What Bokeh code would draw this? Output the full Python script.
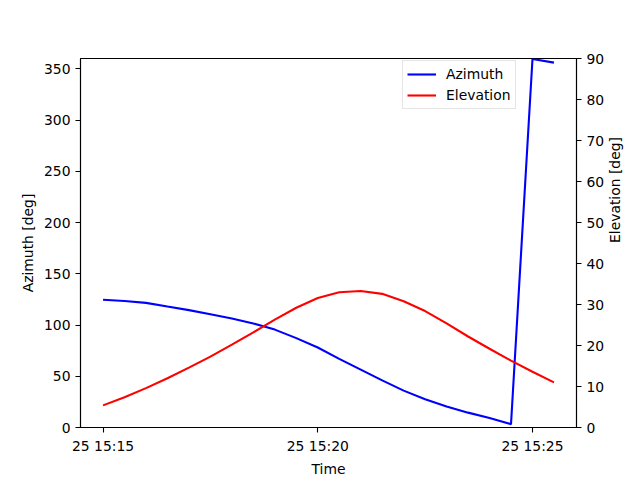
import math
import pandas as pd
from bokeh.plotting import figure
from bokeh.models import (Range1d, LinearAxis, FixedTicker, DatetimeTickFormatter,
                          Legend, LegendItem, ColumnDataSource)
from bokeh.embed import file_html
from bokeh.resources import INLINE

day = "2024-01-25"
times = ["15:15:00", "15:15:30", "15:16:00", "15:16:30", "15:17:00", "15:17:30",
         "15:18:00", "15:18:30", "15:19:00", "15:19:30", "15:20:00", "15:20:30",
         "15:21:00", "15:21:30", "15:22:00", "15:22:30", "15:23:00", "15:23:30",
         "15:24:00", "15:24:30", "15:25:00", "15:25:30"]
azimuth = [124.6, 123.4, 121.6, 118.0, 114.5, 110.5, 106.3, 101.5, 95.5, 87.2,
           78.0, 67.0, 56.5, 46.0, 36.0, 27.5, 20.5, 14.5, 9.3, 3.3, 359.5, 356.0]
elevation = [5.4, 7.4, 9.6, 12.0, 14.6, 17.3, 20.2, 23.2, 26.3, 29.2, 31.6, 33.0,
             33.3, 32.6, 30.8, 28.4, 25.4, 22.2, 19.2, 16.3, 13.6, 11.0]
tick_times = ["15:15:00", "15:20:00", "15:25:00"]
az_ticks = [0, 50, 100, 150, 200, 250, 300, 350]
el_ticks = [0, 10, 20, 30, 40, 50, 60, 70, 80, 90]

t = pd.to_datetime([f"{day} {s}" for s in times])
src = ColumnDataSource(dict(t=t, az=azimuth, el=elevation))

span = t[-1] - t[0]
x0 = t[0] - 0.05 * span
x1 = t[-1] + 0.05 * span

FONT = "DejaVu Sans"
FS = "13.9px"

p = figure(width=640, height=480, output_backend="svg", toolbar_location=None,
           x_axis_type="datetime",
           x_range=Range1d(x0, x1), y_range=Range1d(0, 360),
           min_border_left=80, min_border_right=64, min_border_top=58, min_border_bottom=53)
p.extra_y_ranges = {"elev": Range1d(0, 90)}
p.background_fill_color = "white"
p.border_fill_color = "white"
p.outline_line_color = "black"
p.outline_line_width = 1.1
p.grid.visible = False

r_az = p.line("t", "az", source=src, color="#0000ff", line_width=2.1)
r_el = p.line("t", "el", source=src, color="#ff0000", line_width=2.1, y_range_name="elev")

ax_r = LinearAxis(y_range_name="elev", axis_label="Elevation [deg]")
p.add_layout(ax_r, "right")

tick_ms = [pd.Timestamp(f"{day} {s}").value // 10**6 for s in tick_times]
p.xaxis.ticker = FixedTicker(ticks=tick_ms)
fmt = "%d %H:%M"
p.xaxis.formatter = DatetimeTickFormatter(seconds=fmt, minsec=fmt, minutes=fmt,
                                          hourmin=fmt, hours=fmt, days=fmt, context=None)
p.xaxis.axis_label = "Time"
p.yaxis[0].axis_label = "Azimuth [deg]"
p.yaxis[0].ticker = FixedTicker(ticks=az_ticks)
ax_r.ticker = FixedTicker(ticks=el_ticks)

for ax in p.axis:
    ax.axis_line_color = "black"
    ax.axis_line_width = 1.1
    ax.major_tick_line_color = "black"
    ax.major_tick_line_width = 1.1
    ax.major_tick_out = 5
    ax.major_tick_in = 0
    ax.minor_tick_line_color = None
    ax.major_label_text_font = FONT
    ax.major_label_text_font_size = FS
    ax.major_label_text_color = "black"
    ax.major_label_standoff = 5
    ax.axis_label_text_font = FONT
    ax.axis_label_text_font_size = FS
    ax.axis_label_text_font_style = "normal"
    ax.axis_label_text_color = "black"

p.xaxis.axis_label_standoff = 4
p.yaxis[0].axis_label_standoff = 5
ax_r.axis_label_standoff = 8
if "axis_label_orientation" in ax_r.properties():
    ax_r.axis_label_orientation = math.pi / 2
    ax_r.axis_label_text_align = "center"

legend = Legend(items=[LegendItem(label="Azimuth", renderers=[r_az]),
                       LegendItem(label="Elevation", renderers=[r_el])],
                location=(322, 318), orientation="vertical",
                padding=4, spacing=3, margin=0,
                glyph_width=29, glyph_height=18, label_height=18, label_standoff=10,
                label_text_font=FONT, label_text_font_size=FS,
                label_text_color="black",
                border_line_color="#cccccc", border_line_width=1,
                background_fill_color="white", background_fill_alpha=0.8)
p.add_layout(legend, "center")

open("out.html", "w").write(file_html(p, INLINE))
